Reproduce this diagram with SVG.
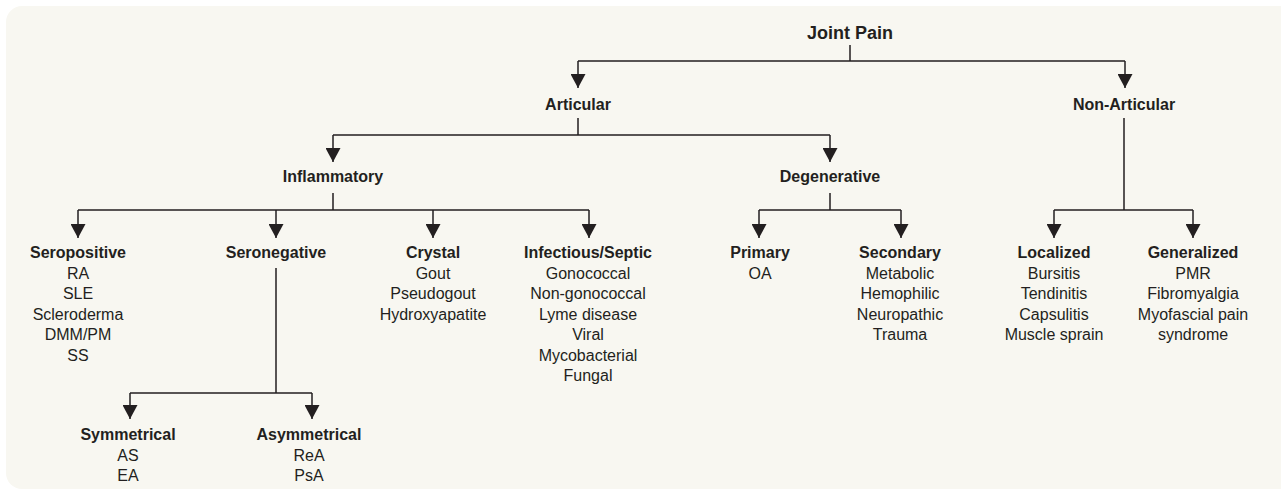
<svg xmlns="http://www.w3.org/2000/svg" width="1281" height="492" viewBox="0 0 1281 492">
<style>
text{font-family:"Liberation Sans",Arial,sans-serif;fill:#231f20;text-anchor:middle;font-size:16px}
.h{font-weight:bold}
.t{font-size:18px;font-weight:bold}
.c{fill:none;stroke:#231f20;stroke-width:1.5}
</style>
<defs>
<marker id="ah" viewBox="0 0 14 15" refX="14" refY="7.5" markerWidth="14" markerHeight="15" markerUnits="userSpaceOnUse" orient="auto">
<path d="M0,0 L14,7.5 L0,15 z" fill="#231f20"/>
</marker>
</defs>
<rect x="6" y="6" width="1290" height="483" rx="16" fill="#f8f7f1"/>
<g id="connectors">
<path class="c" d="M850,45 V61 M578,61 H1125"/>
<path class="c" d="M578,61 V88" marker-end="url(#ah)"/>
<path class="c" d="M1125,61 V88" marker-end="url(#ah)"/>
<path class="c" d="M578,118 V135 M333,135 H830"/>
<path class="c" d="M333,135 V162" marker-end="url(#ah)"/>
<path class="c" d="M830,135 V162" marker-end="url(#ah)"/>
<path class="c" d="M1124,118 V210 M1054,210 H1193"/>
<path class="c" d="M1054,210 V238" marker-end="url(#ah)"/>
<path class="c" d="M1193,210 V238" marker-end="url(#ah)"/>
<path class="c" d="M333,193 V210 M78,210 H589"/>
<path class="c" d="M78,210 V238" marker-end="url(#ah)"/>
<path class="c" d="M276,210 V238" marker-end="url(#ah)"/>
<path class="c" d="M433,210 V238" marker-end="url(#ah)"/>
<path class="c" d="M589,210 V238" marker-end="url(#ah)"/>
<path class="c" d="M830,193 V210 M759,210 H901"/>
<path class="c" d="M759,210 V238" marker-end="url(#ah)"/>
<path class="c" d="M901,210 V238" marker-end="url(#ah)"/>
<path class="c" d="M276,268 V393 M130,393 H312"/>
<path class="c" d="M130,393 V419" marker-end="url(#ah)"/>
<path class="c" d="M312,393 V419" marker-end="url(#ah)"/>
</g>
<g id="joint-pain"><text class="t" x="850" y="39">Joint Pain</text></g>
<g id="articular"><text class="h" x="578" y="110">Articular</text></g>
<g id="non-articular"><text class="h" x="1124" y="110">Non-Articular</text></g>
<g id="inflammatory"><text class="h" x="333" y="182">Inflammatory</text></g>
<g id="degenerative"><text class="h" x="830" y="182">Degenerative</text></g>
<g id="seropositive">
<text class="h" x="78" y="258">Seropositive</text>
<text x="78" y="278.5">RA</text>
<text x="78" y="299">SLE</text>
<text x="78" y="319.5">Scleroderma</text>
<text x="78" y="340">DMM/PM</text>
<text x="78" y="360.5">SS</text>
</g>
<g id="seronegative"><text class="h" x="276" y="258">Seronegative</text></g>
<g id="crystal">
<text class="h" x="433" y="258">Crystal</text>
<text x="433" y="278.5">Gout</text>
<text x="433" y="299">Pseudogout</text>
<text x="433" y="319.5">Hydroxyapatite</text>
</g>
<g id="infectious">
<text class="h" x="588" y="258">Infectious/Septic</text>
<text x="588" y="278.5">Gonococcal</text>
<text x="588" y="299">Non-gonococcal</text>
<text x="588" y="319.5">Lyme disease</text>
<text x="588" y="340">Viral</text>
<text x="588" y="360.5">Mycobacterial</text>
<text x="588" y="381">Fungal</text>
</g>
<g id="primary">
<text class="h" x="760" y="258">Primary</text>
<text x="760" y="278.5">OA</text>
</g>
<g id="secondary">
<text class="h" x="900" y="258">Secondary</text>
<text x="900" y="278.5">Metabolic</text>
<text x="900" y="299">Hemophilic</text>
<text x="900" y="319.5">Neuropathic</text>
<text x="900" y="340">Trauma</text>
</g>
<g id="localized">
<text class="h" x="1054" y="258">Localized</text>
<text x="1054" y="278.5">Bursitis</text>
<text x="1054" y="299">Tendinitis</text>
<text x="1054" y="319.5">Capsulitis</text>
<text x="1054" y="340">Muscle sprain</text>
</g>
<g id="generalized">
<text class="h" x="1193" y="258">Generalized</text>
<text x="1193" y="278.5">PMR</text>
<text x="1193" y="299">Fibromyalgia</text>
<text x="1193" y="319.5">Myofascial pain</text>
<text x="1193" y="340">syndrome</text>
</g>
<g id="symmetrical">
<text class="h" x="128" y="440">Symmetrical</text>
<text x="128" y="460.5">AS</text>
<text x="128" y="481">EA</text>
</g>
<g id="asymmetrical">
<text class="h" x="309" y="440">Asymmetrical</text>
<text x="309" y="460.5">ReA</text>
<text x="309" y="481">PsA</text>
</g>
</svg>
